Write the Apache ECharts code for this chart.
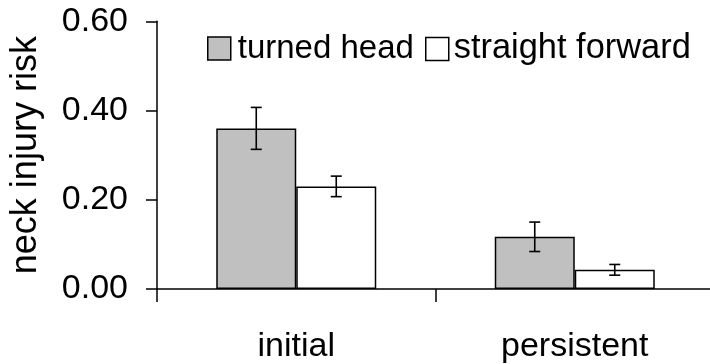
<!DOCTYPE html>
<html>
<head>
<meta charset="utf-8">
<script src="https://cdn.jsdelivr.net/npm/echarts@6/dist/echarts.min.js"></script>
<style>html,body{margin:0;padding:0;background:#fff}#c{width:710px;height:364px}</style>
</head>
<body>
<div id="c"></div>
<script>
const categories = ['initial', 'persistent'];
const seriesNames = ['turned head', 'straight forward'];
const turnedHead = [0.36, 0.117];
const turnedHeadErr = [0.047, 0.033];
const straightForward = [0.23, 0.043];
const straightForwardErr = [0.023, 0.012];
const yTicks = [0, 0.2, 0.4, 0.6];

const FONT = 'Liberation Sans, Arial, sans-serif';
const BAR_W = 80;
const chart = echarts.init(document.getElementById('c'), null, {renderer: 'canvas'});

function errSeries(vals, errs, offset) {
  return {
    type: 'custom',
    silent: true,
    z: 10,
    data: vals.map((v, i) => [i, v, errs[i]]),
    renderItem: function (params, api) {
      const i = api.value(0), v = api.value(1), e = api.value(2);
      const top = api.coord([i, v + e]);
      const bot = api.coord([i, v - e]);
      const x = top[0] + offset;
      const cap = 5.5;
      const st = {stroke: '#000', lineWidth: 1.6};
      return {
        type: 'group',
        children: [
          {type: 'line', shape: {x1: x, y1: top[1], x2: x, y2: bot[1]}, style: st},
          {type: 'line', shape: {x1: x - cap, y1: top[1], x2: x + cap, y2: top[1]}, style: st},
          {type: 'line', shape: {x1: x - cap, y1: bot[1], x2: x + cap, y2: bot[1]}, style: st}
        ]
      };
    },
    encode: {x: 0, y: 1}
  };
}

function legendFor(name, left, size, pad) {
  return {
    left: left, top: 27,
    itemWidth: 23, itemHeight: 23,
    icon: 'rect',
    textStyle: {fontSize: size, fontFamily: FONT, color: '#000', padding: [0, 0, 0, pad]},
    data: [{name: name, itemStyle: {borderColor: '#000', borderWidth: 1.5}}]
  };
}

chart.setOption({
  animation: false,
  backgroundColor: '#fff',
  textStyle: {fontFamily: FONT},
  grid: {left: 157, right: -4, top: 21.3, bottom: 75, containLabel: false, outerBoundsMode: 'none'},
  legend: [legendFor(seriesNames[0], 202, 33, 2), legendFor(seriesNames[1], 420, 34.4, 0)],
  xAxis: {
    type: 'category',
    data: categories,
    axisLine: {lineStyle: {color: '#000', width: 1.5}},
    axisTick: {show: true, length: 13, lineStyle: {color: '#000', width: 1.5}},
    axisLabel: {fontSize: 34, color: '#000', margin: 41, fontFamily: FONT}
  },
  yAxis: {
    type: 'value',
    min: yTicks[0], max: yTicks[yTicks.length - 1], interval: 0.2,
    name: 'neck injury risk',
    nameLocation: 'middle',
    nameGap: 113,
    nameTextStyle: {fontSize: 36, color: '#000', fontFamily: FONT},
    splitLine: {show: false},
    axisLine: {show: true, lineStyle: {color: '#000', width: 1.5}},
    axisTick: {show: true, length: 11, lineStyle: {color: '#000', width: 1.5}},
    axisLabel: {fontSize: 34, color: '#000', margin: 29, fontFamily: FONT,
      formatter: v => v.toFixed(2)}
  },
  series: [
    {name: seriesNames[0], type: 'bar', data: turnedHead, barWidth: BAR_W, barGap: '0%',
      itemStyle: {color: '#c0c0c0', borderColor: '#000', borderWidth: 1.5}},
    {name: seriesNames[1], type: 'bar', data: straightForward, barWidth: BAR_W, barGap: '0%',
      itemStyle: {color: '#fff', borderColor: '#000', borderWidth: 1.5}},
    errSeries(turnedHead, turnedHeadErr, -BAR_W / 2),
    errSeries(straightForward, straightForwardErr, BAR_W / 2)
  ]
});
</script>
</body>
</html>
